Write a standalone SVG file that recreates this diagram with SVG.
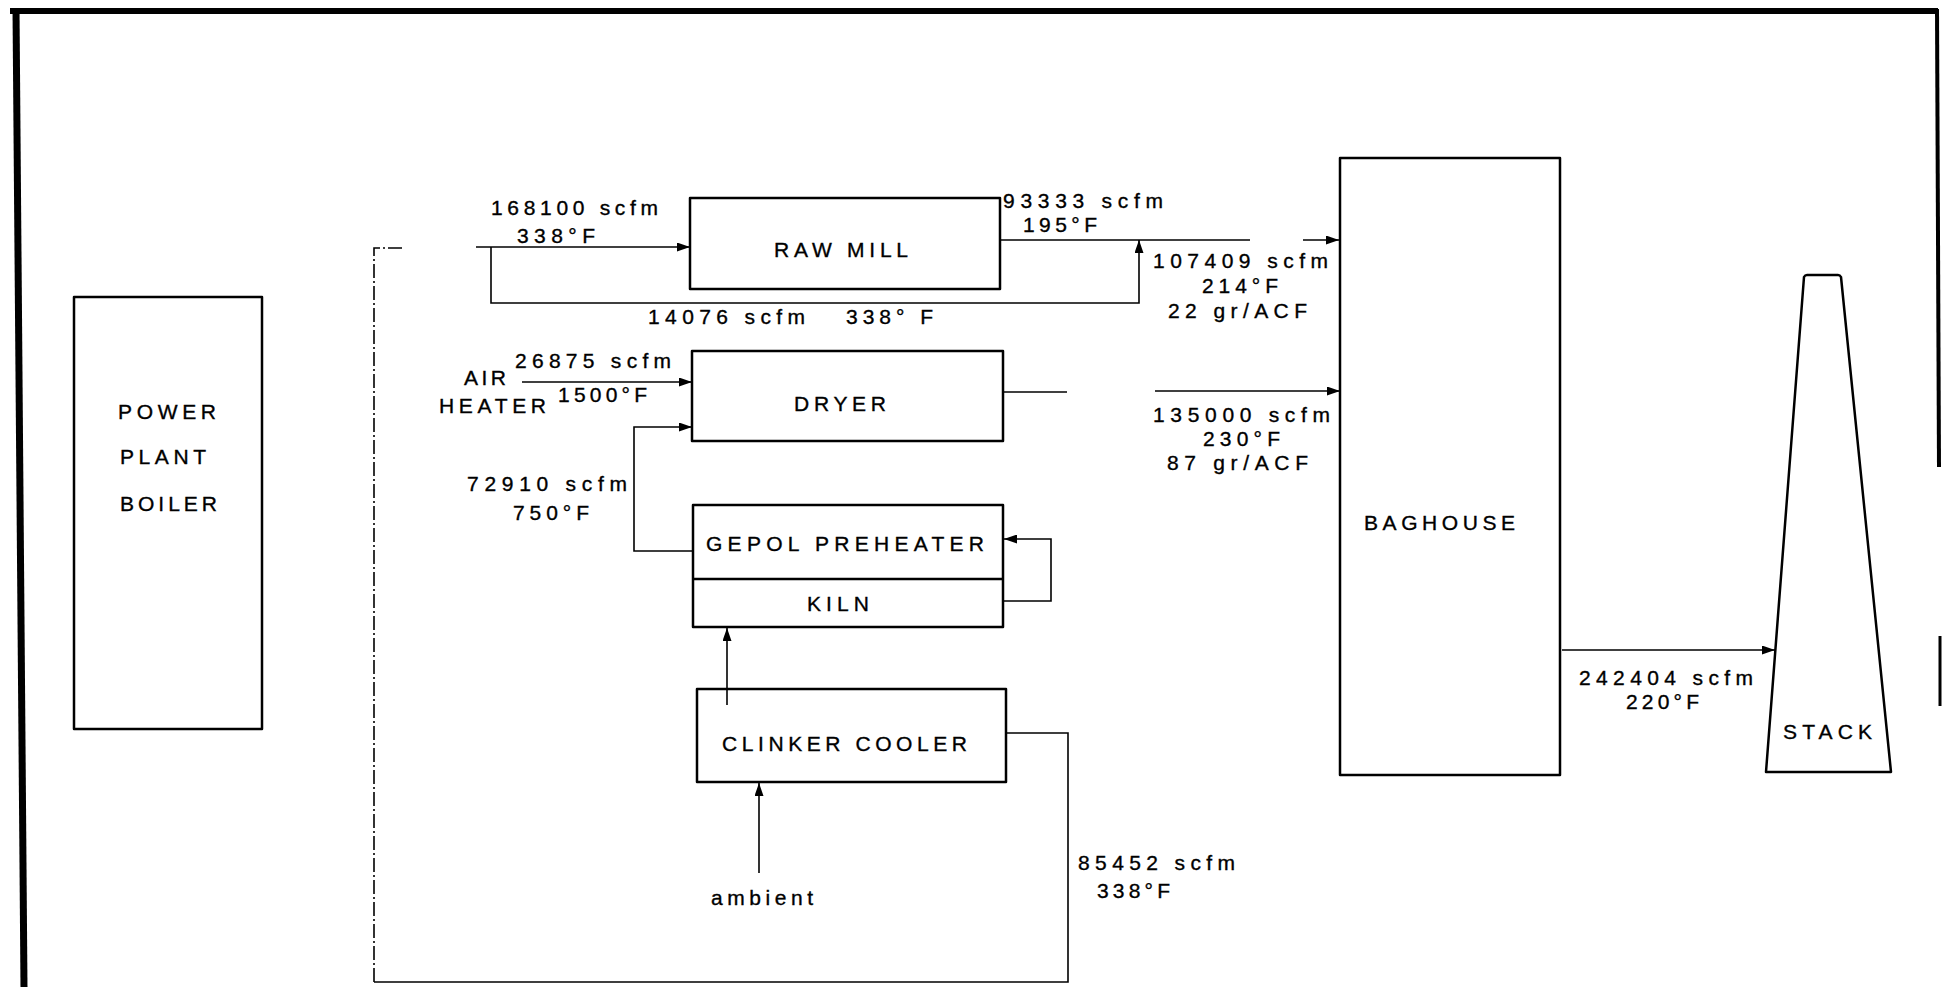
<svg xmlns="http://www.w3.org/2000/svg" width="1942" height="987" viewBox="0 0 1942 987">
<style>
.box{fill:none;stroke:#000;stroke-width:2.5;stroke-linejoin:round}
.ln{fill:none;stroke:#000;stroke-width:1.6}
.dl{fill:none;stroke:#000;stroke-width:1.6;stroke-dasharray:14 3 2 3}
.t{font-family:"Liberation Sans",Arial,sans-serif;font-size:21px;fill:#000;stroke:#000;stroke-width:0.35}
.frame{fill:none;stroke:#000}
</style>
<defs>
<marker id="ah" markerUnits="userSpaceOnUse" markerWidth="13" markerHeight="9" refX="13" refY="4.5" orient="auto">
<path d="M0,0 L13,4.5 L0,9 z" fill="#000"/>
</marker>
</defs>
<rect width="1942" height="987" fill="#fff"/>
<g id="frame">
<line class="frame" x1="10" y1="11" x2="1938" y2="11" stroke-width="6"/>
<line class="frame" x1="16" y1="9" x2="24" y2="987" stroke-width="7"/>
<line class="frame" x1="1937" y1="9" x2="1939" y2="467" stroke-width="4"/>
<line class="frame" x1="1940" y1="636" x2="1940" y2="706" stroke-width="3"/>
</g>
<g id="connectors">
<path class="ln" d="M476,247 L690,247" marker-end="url(#ah)"/>
<path class="ln" d="M491,247 L491,303 L1139,303 L1139,240" marker-end="url(#ah)"/>
<path class="ln" d="M1000,240 L1250,240"/>
<path class="ln" d="M1303,240 L1339,240" marker-end="url(#ah)"/>
<path class="ln" d="M1003,392 L1067,392"/>
<path class="ln" d="M1155,391 L1340,391" marker-end="url(#ah)"/>
<path class="ln" d="M522,382 L692,382" marker-end="url(#ah)"/>
<path class="ln" d="M693,551 L634,551 L634,427 L692,427" marker-end="url(#ah)"/>
<path class="ln" d="M1003,601 L1051,601 L1051,539 L1004,539" marker-end="url(#ah)"/>
<path class="ln" d="M727,705 L727,628" marker-end="url(#ah)"/>
<path class="ln" d="M759,873 L759,783" marker-end="url(#ah)"/>
<path class="ln" d="M1006,733 L1068,733 L1068,982 L374,982"/>
<path class="dl" d="M374,982 L374,248 L402,248"/>
<path class="ln" d="M1562,650 L1775,650" marker-end="url(#ah)"/>
</g>
<g id="boiler">
<rect class="box" x="74" y="297" width="188" height="432"/>
<text class="t" x="118" y="419" textLength="98">POWER</text>
<text class="t" x="120" y="464" textLength="86">PLANT</text>
<text class="t" x="120" y="511" textLength="97">BOILER</text>
</g>
<g id="rawmill">
<rect class="box" x="690" y="198" width="310" height="91"/>
<text class="t" x="774" y="257" textLength="134">RAW MILL</text>
</g>
<g id="dryer">
<rect class="box" x="692" y="351" width="311" height="90"/>
<text class="t" x="794" y="411" textLength="92">DRYER</text>
</g>
<g id="preheater-kiln">
<rect class="box" x="693" y="505" width="310" height="122"/>
<line class="box" x1="693" y1="579" x2="1003" y2="579"/>
<text class="t" x="706" y="551" textLength="278">GEPOL  PREHEATER</text>
<text class="t" x="807" y="611" textLength="62">KILN</text>
</g>
<g id="cooler">
<rect class="box" x="697" y="689" width="309" height="93"/>
<text class="t" x="722" y="751" textLength="245">CLINKER COOLER</text>
</g>
<g id="baghouse">
<rect class="box" x="1340" y="158" width="220" height="617"/>
<text class="t" x="1364" y="530" textLength="151">BAGHOUSE</text>
</g>
<g id="stack">
<path class="box" d="M1766,772 L1804,277 Q1805,275 1807,275 L1838,275 Q1840,275 1841,277 L1891,772 Z"/>
<text class="t" x="1783" y="739" textLength="89">STACK</text>
</g>
<g id="labels">
<text class="t" x="491" y="215" textLength="167">168100 scfm</text>
<text class="t" x="517" y="243" textLength="78">338°F</text>
<text class="t" x="648" y="324" textLength="157">14076 scfm</text>
<text class="t" x="846" y="324" textLength="87">338° F</text>
<text class="t" x="1003" y="208" textLength="160">93333 scfm</text>
<text class="t" x="1023" y="232" textLength="74">195°F</text>
<text class="t" x="1153" y="268" textLength="175">107409 scfm</text>
<text class="t" x="1202" y="293" textLength="76">214°F</text>
<text class="t" x="1168" y="318" textLength="139">22 gr/ACF</text>
<text class="t" x="1153" y="422" textLength="177">135000 scfm</text>
<text class="t" x="1203" y="446" textLength="77">230°F</text>
<text class="t" x="1167" y="470" textLength="141">87 gr/ACF</text>
<text class="t" x="464" y="385" textLength="42">AIR</text>
<text class="t" x="439" y="413" textLength="107">HEATER</text>
<text class="t" x="515" y="368" textLength="156">26875 scfm</text>
<text class="t" x="558" y="402" textLength="89">1500°F</text>
<text class="t" x="467" y="491" textLength="160">72910 scfm</text>
<text class="t" x="513" y="520" textLength="76">750°F</text>
<text class="t" x="711" y="905" textLength="102">ambient</text>
<text class="t" x="1078" y="870" textLength="157">85452 scfm</text>
<text class="t" x="1097" y="898" textLength="73">338°F</text>
<text class="t" x="1579" y="685" textLength="174">242404 scfm</text>
<text class="t" x="1626" y="709" textLength="73">220°F</text>
</g>
</svg>
